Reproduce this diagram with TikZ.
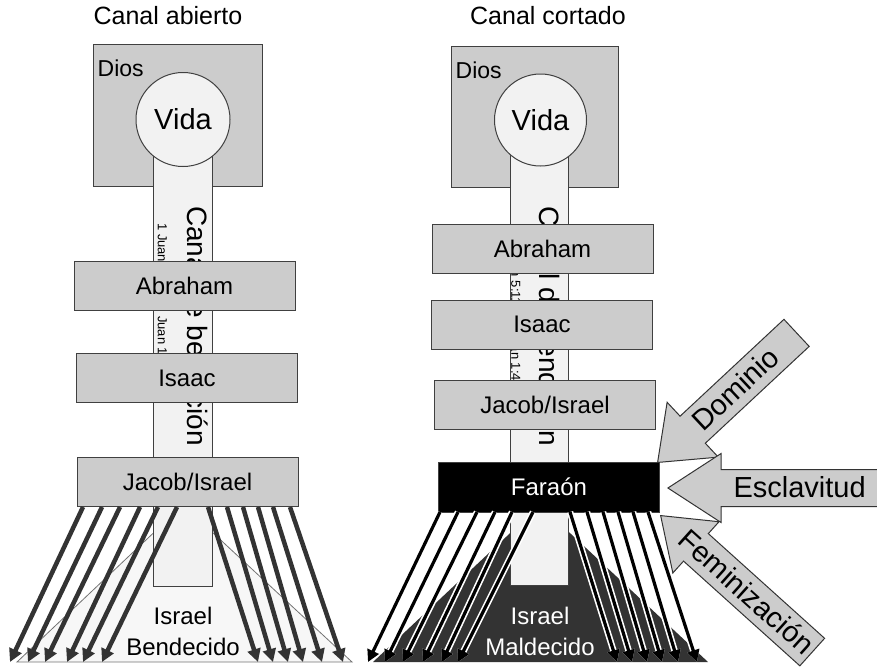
\documentclass[tikz,border=0pt]{standalone}
\usepackage{fontspec}
\setmainfont{Liberation Sans}
\usetikzlibrary{shapes.arrows,arrows.meta}

\begin{document}
\begin{tikzpicture}[x=1pt,y=-1pt,
    dios/.style={draw=black!75,line width=1pt,fill=black!20},
    vida/.style={circle,draw=black!75,line width=1pt,fill=black!5,inner sep=0pt,
        minimum size=94pt,font=\fontsize{29}{34}\selectfont},
    canal/.style={draw=black!75,line width=1pt,fill=black!5,minimum width=59pt},
    caja/.style={draw=black!75,line width=1pt,fill=black!20,minimum width=221pt,
        minimum height=49pt,font=\fontsize{24}{28}\selectfont},
    abanico/.style={draw=black!80,line width=4.5pt,-{Triangle[length=13pt,width=13pt]}},
    abanicob/.style={draw=black,line width=3.2pt,-{Triangle[length=12pt,width=12pt]},
        preaction={draw=white,line width=6.5pt}},
    bloque/.style={single arrow,shape border rotate=180,draw=black!80,line width=1pt,
        fill=black!20,font=\fontsize{29}{34}\selectfont,text height=21pt,text depth=2pt,
        inner ysep=6.5pt,anchor=tip}]
    \useasboundingbox (0,0) rectangle (877,667);
    \clip (0,0) rectangle (877,667);

    % titulos
    \node[font=\fontsize{25}{30}\selectfont] (tabierto) at (168,16) {Canal abierto};
    \node[font=\fontsize{25}{30}\selectfont] (tcortado) at (548,16) {Canal cortado};

    % Israel (abajo)
    \draw[black!55,line width=0.8pt,fill=black!3] (183,505) -- (17,662) -- (352,662) -- cycle;
    \fill[black!80] (540,505) -- (373,662) -- (708,662) -- cycle;

    %% canal abierto
    \node[dios,minimum width=169pt,minimum height=142pt] (dios1) at (177.5,115) {};
    \node[anchor=north west,inner sep=0pt,font=\fontsize{23}{27}\selectfont] (ldios1)
        at ([xshift=5pt,yshift=-16pt]dios1.north west) {Dios};
    \node[canal,anchor=north,minimum height=466pt] (canal1) at (182.5,120) {};
    \node[rotate=-90,inner sep=0pt,font=\fontsize{28}{32}\selectfont] (lema1)
        at (198,326) {Canal de bendición};
    \node[rotate=-90,anchor=west,inner sep=0pt,font=\fontsize{13}{15}\selectfont] (cita1)
        at (161.5,223) {1 Juan 5:11-12; Juan 1:4};
    \node[vida] (vida1) at (183,119.5) {Vida};

    \node[caja] (abraham1) at (184.5,285.5) {Abraham};
    \node[caja] (isaac1) at (187,378) {Isaac};
    \node[caja] (jacob1) at (187.5,482) {Jacob/Israel};

    \foreach \a/\b [count=\i] in {83/10,102/28,120/45,140/67,158/83,177/102,
        208/258,227/273,243/288,258/303,273/322,290/343} {
        \coordinate (ia\i) at (\a,507);
        \coordinate (fa\i) at (\b,662);
        \draw[abanico] (ia\i) -- (fa\i);
    }
    \node[align=center,font=\fontsize{24}{31}\selectfont] (bendecido) at (183,631)
        {Israel\\Bendecido};

    %% canal cortado
    \node[dios,minimum width=167pt,minimum height=141pt] (dios2) at (534.5,116.5) {};
    \node[anchor=north west,inner sep=0pt,font=\fontsize{23}{27}\selectfont] (ldios2)
        at ([xshift=5pt,yshift=-16pt]dios2.north west) {Dios};
    \node[canal,anchor=north,minimum width=58pt,minimum height=465pt] (canal2) at (539,120) {};
    \node[rotate=-90,inner sep=0pt,font=\fontsize{28}{32}\selectfont] (lema2)
        at (550,326) {Canal de bendición};
    \node[rotate=-90,anchor=west,inner sep=0pt,font=\fontsize{13}{15}\selectfont] (cita2)
        at (515,238) {1 Juan 5:11-12; Juan 1:4};
    \node[vida,minimum size=92pt] (vida2) at (540.5,120) {Vida};

    \node[caja] (abraham2) at (542.5,249) {Abraham};
    \node[caja] (isaac2) at (542,324.5) {Isaac};
    \node[caja] (jacob2) at (545,404.5) {Jacob/Israel};
    \node[caja,fill=black,text=white,minimum height=50pt] (farao) at (549,487) {Faraón};

    \foreach \a/\b [count=\i] in {440/368,458/385,477/403,495/423,512/442,533/458,
        570/617,587/632,603/647,618/662,633/678,648/697} {
        \coordinate (ib\i) at (\a,512);
        \coordinate (fb\i) at (\b,662);
        \draw[abanicob] (ib\i) -- (fb\i);
    }
    \node[align=center,text=white,font=\fontsize{24}{31}\selectfont] (maldecido) at (540,631)
        {Israel\\Maldecido};

    % flechas sobre Faraon
    \node[bloque,rotate=43,minimum height=190pt,single arrow head extend=19pt,
        single arrow tip angle=76] (dominio) at (657,463) {Dominio};
    \node[bloque,minimum height=235pt,single arrow head extend=16pt,
        single arrow tip angle=66] (esclavitud) at (667,488) {Esclavitud};
    \node[bloque,rotate=-42,minimum height=202pt,single arrow head extend=16pt,
        single arrow tip angle=72] (feminizacion) at (660,515) {Feminización};
\end{tikzpicture}
\end{document}
